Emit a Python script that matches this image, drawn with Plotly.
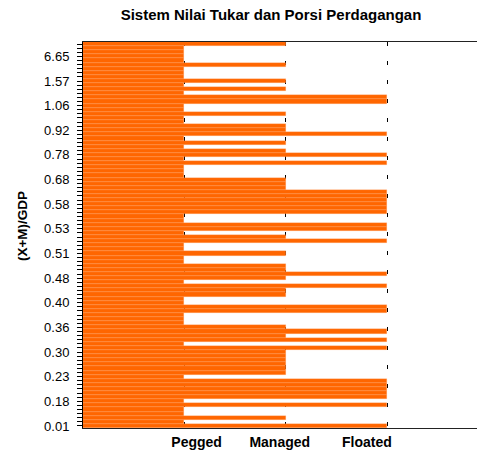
import plotly.graph_objects as go

# Exchange-rate regime of each country (1 = Pegged, 2 = Managed, 3 = Floated),
# ordered from lowest to highest trade share (X+M)/GDP (bottom row first)
regime = [3, 1, 2, 1, 1, 3, 1, 3, 3, 3, 3, 3, 1, 2, 2, 2, 2, 2, 2, 3,
          1, 3, 2, 3, 2, 1, 1, 1, 3, 3, 1, 1, 2, 2, 3, 1, 2, 3, 2, 2,
          1, 1, 2, 1, 1, 3, 2, 1, 3, 3, 1, 1, 3, 3, 3, 3, 3, 3, 2, 2,
          2, 1, 1, 1, 3, 1, 3, 2, 1, 2, 1, 3, 2, 2, 1, 1, 2, 1, 1, 3,
          3, 1, 2, 1, 2, 1, 1, 1, 2, 1, 1, 1, 1, 2]

# (X+M)/GDP labels shown on every 6th row, bottom to top
ratio_labels = ["0.01", "0.18", "0.23", "0.30", "0.36", "0.40", "0.48", "0.51",
                "0.53", "0.58", "0.68", "0.78", "0.92", "1.06", "1.57", "6.65"]
label_every = 6

regime_names = ["Pegged", "Managed", "Floated"]
regime_values = [1, 2, 3]

rows = list(range(1, len(regime) + 1))
ratio_tickvals = [1 + i * label_every for i in range(len(ratio_labels))]

FONT = "Liberation Sans, Arial, sans-serif"

fig = go.Figure()
fig.add_trace(go.Bar(
    x=regime, y=rows, orientation="h", width=1,
    marker=dict(color="#FF6600", line=dict(color="rgba(255,175,120,0.45)", width=0.5)),
    hoverinfo="x+y", showlegend=False,
))

label_shift = [0.12, -0.06, -0.2]
fig.update_layout(
    width=477, height=455,
    margin=dict(l=83, r=0, t=42, b=27),
    paper_bgcolor="white", plot_bgcolor="white",
    bargap=0,
    font=dict(family=FONT, color="black"),
    title=dict(text="Sistem Nilai Tukar dan Porsi Perdagangan",
               font=dict(size=15, weight="bold", family=FONT, color="black"),
               x=(271 - 83) / 394, xref="paper", xanchor="center",
               y=1 - 15 / 455, yref="container", yanchor="middle"),
    xaxis=dict(range=[0, 394 / 101.4],
               tickvals=[v + s for v, s in zip(regime_values, label_shift)],
               ticktext=regime_names, ticks="", showgrid=False,
               tickfont=dict(size=14, weight="bold", family=FONT, color="black"),
               showline=True, linecolor="#222", linewidth=1, mirror=True,
               zeroline=False, ticklabelstandoff=1,
               minor=dict(tickvals=regime_values, showgrid=True, gridcolor="black",
                          griddash="4px,15px", gridwidth=1, ticks="")),
    yaxis=dict(range=[0.5, len(regime) + 0.5],
               tickvals=ratio_tickvals, ticktext=ratio_labels,
               ticks="outside", ticklen=5, tickcolor="black", tickwidth=1,
               tickfont=dict(size=13, family=FONT, color="black"),
               ticklabelstandoff=5,
               showgrid=False, zeroline=False,
               showline=True, linecolor="black", linewidth=1,
               minor=dict(dtick=1, tick0=1, ticks="outside", ticklen=5,
                          tickcolor="black", tickwidth=1, showgrid=False)),
    annotations=[dict(text="(X+M)/GDP", textangle=-90, showarrow=False,
                      xref="paper", yref="paper",
                      x=(22.5 - 83) / 394, y=(428 - 226.7) / 385.7,
                      xanchor="center", yanchor="middle",
                      font=dict(size=13.5, weight="bold", family=FONT, color="black"))],
)

fig.write_html("out.html", config={"displayModeBar": False},
               post_script="document.body.style.margin='0';document.body.style.padding='0';")
